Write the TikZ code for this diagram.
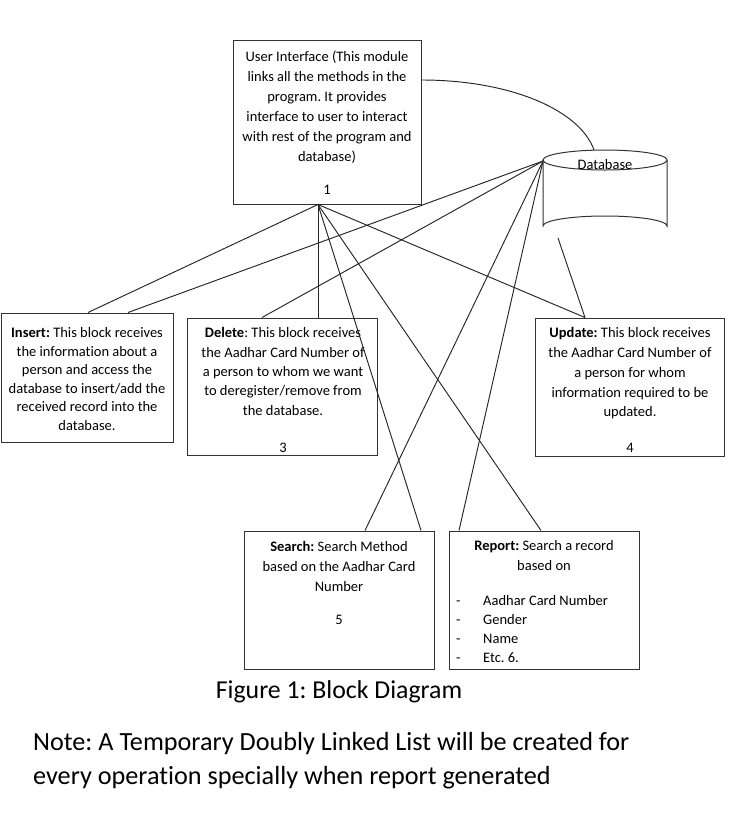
\documentclass[tikz,border=0pt]{standalone}
\usepackage{fontspec}
\setmainfont{Carlito}[Ligatures=NoCommon]
\frenchspacing
\begin{document}
\begin{tikzpicture}[x=1pt,y=-1pt,
  box/.style={draw=black!80, line width=1pt, inner sep=0},
  txt/.style={inner sep=0, align=center, font=\fontsize{14.5}{20}\selectfont},
  conn/.style={draw=black!85, line width=0.95pt}]
\useasboundingbox (0,0) rectangle (736,825);

% boxes
\node[box, minimum width=188, minimum height=164] (ui) at (327,122) {};
\node[box, minimum width=172, minimum height=129] (ins) at (87,377.5) {};
\node[box, minimum width=190, minimum height=137] (del) at (282,386.5) {};
\node[box, minimum width=189, minimum height=138] (upd) at (629.5,387) {};
\node[box, minimum width=190, minimum height=138] (srch) at (339,600) {};
\node[box, minimum width=190, minimum height=138] (rep) at (544,600) {};

% database cylinder
\draw[box] (605,160) ellipse [x radius=62, y radius=10];
\draw[box] (543,160) -- (543,226) arc[start angle=180, end angle=360, x radius=62, y radius=10] -- (667,160);
\node[txt, anchor=base] (db) at (605,169) {Database};
\coordinate (dbL) at (543,161);
\coordinate (dbB) at (558,238);
\coordinate (dbT) at (594,150);
\coordinate (hub) at (318,0 |- ui.south);

% texts (anchor=base is the baseline of the last line)
\node[txt, anchor=base] (uit) at (327,194) {User Interface (This module\\links all the methods in the\\program. It provides\\interface to user to interact\\with rest of the program and\\database)\\[13pt]1};
\node[txt, anchor=base, font=\fontsize{14.5}{18.5}\selectfont] (inst) at (87,430) {\textbf{Insert:} This block receives\\the information about a\\person and access the\\database to insert/add the\\received record into the\\database.};
\node[txt, anchor=base, font=\fontsize{14.5}{19.3}\selectfont] (delt) at (283,452) {\textbf{Delete}: This block receives\\the Aadhar Card Number of\\a person to whom we want\\to deregister/remove from\\the database.\\[17.7pt]3};
\node[txt, anchor=base, font=\fontsize{14.5}{19.75}\selectfont] (updt) at (630,452) {\textbf{Update:} This block receives\\the Aadhar Card Number of\\a person for whom\\information required to be\\updated.\\[15.3pt]4};
\node[txt, anchor=base] (srcht) at (339,624) {\textbf{Search:} Search Method\\based on the Aadhar Card\\Number\\[13pt]5};
\node[txt, anchor=base] (rept) at (544,570) {\textbf{Report:} Search a record\\based on};
\node[txt, anchor=base west, align=left, font=\fontsize{14.5}{19}\selectfont] (repl) at (456,662) {\makebox[27pt][l]{-}Aadhar Card Number\\\makebox[27pt][l]{-}Gender\\\makebox[27pt][l]{-}Name\\\makebox[27pt][l]{-}Etc. 6.};

\node[inner sep=0, anchor=base, font=\fontsize{25.8}{30}\selectfont] (cap) at (339,698.5) {Figure 1: Block Diagram};
\node[inner sep=0, anchor=base west, align=left, font=\fontsize{26.2}{34}\selectfont] (note) at (33,784) {Note: A Temporary Doubly Linked List will be created for\\every operation specially when report generated};

% connectors
\draw[conn] (ui.east |- 0,80) .. controls (510,80) and (580,110) .. (dbT);
\draw[conn] (hub) -- (88,0 |- ins.north);
\draw[conn] (dbL) -- (128,0 |- ins.north);
\draw[conn] (hub) -- (hub |- del.north);
\draw[conn] (dbL) -- (262,0 |- del.north);
\draw[conn] (hub) -- (585,0 |- upd.north);
\draw[conn] (dbB) -- (585,0 |- upd.north);
\draw[conn] (hub) -- (421,0 |- srch.north);
\draw[conn] (dbL) -- (365,0 |- srch.north);
\draw[conn] (hub) -- (541,0 |- rep.north);
\draw[conn] (dbL) -- (459,0 |- rep.north);
\end{tikzpicture}
\end{document}
